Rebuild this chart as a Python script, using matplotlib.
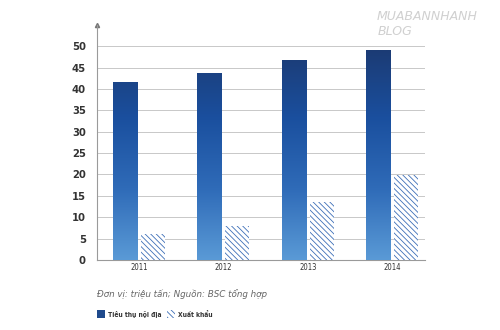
import numpy as np
import matplotlib
matplotlib.use("Agg")
import matplotlib.pyplot as plt
from matplotlib.colors import LinearSegmentedColormap
from matplotlib.patches import Rectangle

years = ["2011", "2012", "2013", "2014"]
domestic = [41.7, 43.8, 46.7, 49.2]   # Tieu thu noi dia
export = [6.1, 7.9, 13.6, 19.9]        # Xuat khau
yticks = [0, 5, 10, 15, 20, 25, 30, 35, 40, 45, 50]

plt.rcParams['font.family'] = ['DejaVu Sans']
plt.rcParams['hatch.linewidth'] = 0.6

fig = plt.figure(figsize=(5, 3.3), dpi=100)
ax = fig.add_axes([0.194, 0.212, 0.656, 0.713])

x = np.arange(len(years))
w = 0.285
off = 0.166

dark_cmap = LinearSegmentedColormap.from_list(
    "dom", ["#5a9ad6", "#2f6bb8", "#1a4f9e", "#1c3a72"])
hatch_col = "#3d6fb8"
hatch = "\\\\\\\\\\\\"

b1 = ax.bar(x - off, domestic, w, color="none", zorder=3)
b2 = ax.bar(x + off, export, w, facecolor="white", edgecolor=hatch_col,
            hatch=hatch, linewidth=0, zorder=3)

grad = np.linspace(0, 1, 256).reshape(-1, 1)
for p in b1:
    x0 = p.get_x()
    im = ax.imshow(grad, cmap=dark_cmap, origin="lower", aspect="auto",
                   extent=[x0, x0 + p.get_width(), 0, 50], zorder=3)
    im.set_clip_path(p)

ax.set_xlim(-0.5, 3.39)
ax.set_ylim(0, 55)
ax.set_yticks(yticks)
ax.set_yticklabels([str(v) for v in yticks], fontsize=8, fontweight="bold",
                   color="#333333", fontstretch="condensed")
ax.set_xticks(x)
ax.set_xticklabels(years, fontsize=5.5, color="#333333",
                   fontstretch="condensed")
ax.tick_params(length=0, pad=8)
ax.tick_params(axis="x", pad=2)
ax.yaxis.grid(True, color="#c8c8c8", linewidth=0.7, zorder=0)
ax.set_axisbelow(True)
for s in ["top", "right"]:
    ax.spines[s].set_visible(False)
ax.spines["left"].set_color("#9a9a9a")
ax.spines["bottom"].set_color("#9a9a9a")
ax.spines["left"].set_linewidth(0.8)
ax.spines["bottom"].set_linewidth(0.8)
ax.plot(0, 1, marker="^", markersize=3, color="#777777",
        transform=ax.transAxes, clip_on=False)

fig.text(0.194, 0.108, "Đơn vị: triệu tấn; Nguồn: BSC tổng hợp",
         fontsize=6.3, style="italic", color="#666666", va="center")

fig.patches.append(Rectangle((0.194, 0.035), 0.016, 0.025,
                             transform=fig.transFigure, facecolor="#1f4a8c"))
fig.text(0.216, 0.047, "Tiêu thụ nội địa", fontsize=4.8, fontweight="bold",
         color="#333333", va="center", fontstretch="condensed")
fig.patches.append(Rectangle((0.334, 0.035), 0.016, 0.025,
                             transform=fig.transFigure, facecolor="white",
                             edgecolor=hatch_col, hatch=hatch,
                             linewidth=0))
fig.text(0.356, 0.047, "Xuất khẩu", fontsize=4.8, fontweight="bold",
         color="#333333", va="center", fontstretch="condensed")

fig.text(0.855, 0.94, "MUABANNHANH", fontsize=9, style="italic",
         color="#d0d0d0", ha="center")
fig.text(0.79, 0.895, "BLOG", fontsize=9, style="italic",
         color="#d0d0d0", ha="center")

fig.savefig("out.png", dpi=100)
